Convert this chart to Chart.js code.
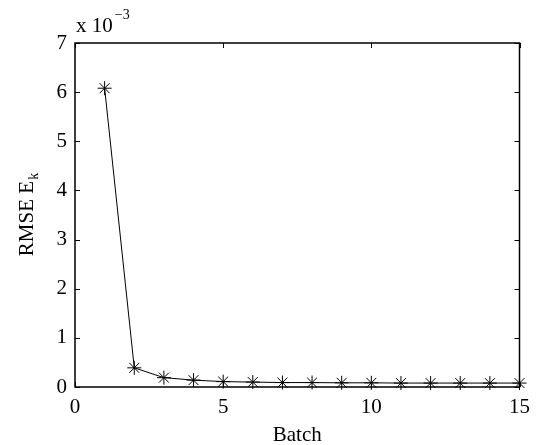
<!DOCTYPE html>
<html>
<head>
<meta charset="utf-8">
<script src="https://cdn.jsdelivr.net/npm/chart.js@4/dist/chart.umd.min.js"></script>
<style>
html,body{margin:0;padding:0;background:#fff;}
canvas{display:block;}
</style>
</head>
<body>
<canvas id="c" width="538" height="445"></canvas>
<script>
// Data (RMSE values in units of 10^-3)
const batches = [1, 2, 3, 4, 5, 6, 7, 8, 9, 10, 11, 12, 13, 14, 15];
const rmse = [6.08, 0.39, 0.19, 0.14, 0.11, 0.10, 0.09, 0.09, 0.085, 0.085, 0.08, 0.08, 0.08, 0.08, 0.08];
const xTicks = [0, 5, 10, 15];
const yTicks = [0, 1, 2, 3, 4, 5, 6, 7];
const xLabel = 'Batch';
const yLabelMain = 'RMSE E';
const yLabelSub = 'k';
const expBase = 'x 10';
const expPow = '\u22123';

const FONT = '"Liberation Serif", "Times New Roman", serif';

const boxPlugin = {
  id: 'matlabBox',
  afterDraw(chart) {
    const ctx = chart.ctx;
    const a = chart.chartArea;
    const xs = chart.scales.x, ys = chart.scales.y;
    ctx.save();
    ctx.strokeStyle = '#000';
    ctx.lineWidth = 1.5;
    ctx.strokeRect(a.left, a.top, a.right - a.left, a.bottom - a.top);
    ctx.lineWidth = 1;
    const tl = 5;
    ctx.beginPath();
    xTicks.forEach(v => {
      const px = Math.round(xs.getPixelForValue(v)) + 0.5;
      ctx.moveTo(px, a.bottom); ctx.lineTo(px, a.bottom - tl);
      ctx.moveTo(px, a.top); ctx.lineTo(px, a.top + tl);
    });
    yTicks.forEach(v => {
      const py = Math.round(ys.getPixelForValue(v)) + 0.5;
      ctx.moveTo(a.left, py); ctx.lineTo(a.left + tl, py);
      ctx.moveTo(a.right, py); ctx.lineTo(a.right - tl, py);
    });
    ctx.stroke();

    ctx.fillStyle = '#000';
    // exponent label
    ctx.textAlign = 'left';
    ctx.textBaseline = 'alphabetic';
    ctx.font = '21px ' + FONT;
    ctx.fillText(expBase, a.left + 1, 32);
    const wb = ctx.measureText(expBase).width;
    ctx.font = '14px ' + FONT;
    ctx.fillText(expPow, a.left + 1 + wb + 2, 19);

    // x title
    ctx.font = '21px ' + FONT;
    ctx.textAlign = 'center';
    ctx.fillText(xLabel, (a.left + a.right) / 2, 441);

    // y title with subscript
    ctx.save();
    ctx.translate(33, (a.top + a.bottom) / 2);
    ctx.rotate(-Math.PI / 2);
    ctx.textAlign = 'left';
    ctx.font = '21px ' + FONT;
    const w1 = ctx.measureText(yLabelMain).width;
    ctx.font = '14px ' + FONT;
    const w2 = ctx.measureText(yLabelSub).width;
    const start = -(w1 + w2) / 2;
    ctx.font = '21px ' + FONT;
    ctx.fillText(yLabelMain, start, 0);
    ctx.font = '14px ' + FONT;
    ctx.fillText(yLabelSub, start + w1 + 1, 5);
    ctx.restore();
    ctx.restore();
  }
};

new Chart(document.getElementById('c'), {
  type: 'scatter',
  data: {
    datasets: [{
      data: batches.map((b, i) => ({ x: b, y: rmse[i] })),
      showLine: true,
      borderColor: '#000',
      borderWidth: 1,
      pointStyle: 'star',
      pointRadius: 7,
      pointBorderWidth: 1,
      pointBorderColor: '#000',
      pointBackgroundColor: '#000',
      clip: false,
      tension: 0
    }]
  },
  options: {
    responsive: false,
    animation: false,
    events: [],
    layout: { padding: { top: 43, right: 17, left: 0, bottom: 0 } },
    plugins: { legend: { display: false }, tooltip: { enabled: false } },
    scales: {
      x: {
        type: 'linear', min: 0, max: 15,
        afterBuildTicks: s => { s.ticks = xTicks.map(v => ({ value: v })); },
        ticks: { color: '#000', font: { family: FONT, size: 21 }, padding: 8, maxRotation: 0, autoSkip: false },
        grid: { display: false, drawTicks: false },
        border: { display: false },
        afterFit: s => { s.height = 58; }
      },
      y: {
        type: 'linear', min: 0, max: 7,
        afterBuildTicks: s => { s.ticks = yTicks.map(v => ({ value: v })); },
        ticks: { color: '#000', font: { family: FONT, size: 21 }, padding: 8, autoSkip: false },
        grid: { display: false, drawTicks: false },
        border: { display: false },
        afterFit: s => { s.width = 75; }
      }
    }
  },
  plugins: [boxPlugin]
});
</script>
</body>
</html>
